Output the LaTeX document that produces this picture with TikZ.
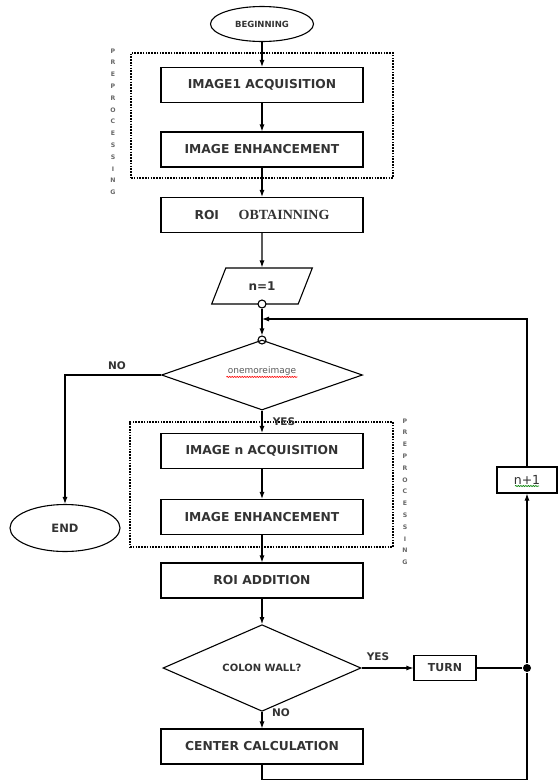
\documentclass[tikz,border=0pt]{standalone}
\usepackage{fontspec}
\setmainfont{DejaVu Sans}
\newfontfamily\serifb{Liberation Serif}
\usetikzlibrary{arrows.meta,shapes.geometric,decorations.pathmorphing}
\definecolor{txt}{HTML}{333333}
\begin{document}
\begin{tikzpicture}[x=1pt,y=-1pt,line width=1.1pt,
  box/.style={draw,rectangle,minimum width=202pt,minimum height=35pt,inner sep=0pt,text=txt,font=\bfseries\fontsize{12.3}{14}\selectfont},
  arr/.style={-{Latex[length=7pt,width=5pt]}},
  dotbox/.style={draw,line width=1.8pt,dash pattern=on 1.6pt off 1.2pt,rectangle,inner sep=0pt},
  vtext/.style={text=gray!80!black,align=center,font=\bfseries\fontsize{6.2}{11.8}\selectfont,inner sep=0pt,anchor=north},
  lbl/.style={text=txt,font=\bfseries\fontsize{10.5}{12}\selectfont,inner sep=0pt},
  smallc/.style={circle,draw,fill=white,inner sep=0pt,minimum size=8pt},
  wavy/.style={decorate,decoration={snake,amplitude=0.6pt,segment length=2.5pt},line width=0.6pt}]
\useasboundingbox (0,0) rectangle (558,780);
% nodes
\node[ellipse,draw,minimum width=103pt,minimum height=35pt,inner sep=0pt,text=txt,font=\bfseries\fontsize{8.5}{9}\selectfont] (beg) at (262,24) {BEGINNING};
\node[dotbox,minimum width=262pt,minimum height=125pt] (pre1) at (262,115.5) {};
\node[box] (acq1) at (262,85) {IMAGE1 ACQUISITION};
\node[box] (enh1) at (262,149.5) {IMAGE ENHANCEMENT};
\node[box] (roi) at (262,215) {ROI\hspace{1.6em}{\serifb\bfseries\fontsize{14}{15}\selectfont OBTAINNING}};
\node[trapezium,trapezium left angle=59,trapezium right angle=121,trapezium stretches=true,draw,minimum width=101pt,minimum height=36pt,inner sep=0pt,text=txt,font=\bfseries\fontsize{12}{13}\selectfont] (n1) at (262,286) {n=1};
\node[smallc] (c1) at (262,304) {};
\node[smallc] (c2) at (262,340) {};
\coordinate (j) at (262,319);
\node[diamond,draw,minimum width=201pt,minimum height=70pt,inner sep=0pt] (d1) at (262,375) {};
\node[text=gray!70!black,font=\fontsize{9}{10}\selectfont,inner sep=1pt] (d1t) at (262,371) {onemoreimage};
\draw[red,wavy] (d1t.south west) -- (d1t.south east);
\node[ellipse,draw,minimum width=110pt,minimum height=47pt,inner sep=0pt,text=txt,font=\bfseries\fontsize{11.5}{13}\selectfont] (end) at (65,528) {END};
\node[dotbox,minimum width=263pt,minimum height=125pt] (pre2) at (261.5,484.5) {};
\node[box] (acq2) at (262,451) {IMAGE n ACQUISITION};
\node[box] (enh2) at (262,517) {IMAGE ENHANCEMENT};
\node[box] (roia) at (262,580.5) {ROI ADDITION};
\node[diamond,draw,minimum width=198pt,minimum height=71pt,inner sep=0pt,text=txt,font=\bfseries\fontsize{10}{12}\selectfont] (d2) at (262,668) {COLON WALL?};
\node[draw,rectangle,minimum width=62pt,minimum height=25pt,inner sep=0pt,text=txt,font=\bfseries\fontsize{11}{13}\selectfont] (turn) at (445,668) {TURN};
\node[circle,fill,inner sep=0pt,minimum size=8pt] (dot) at (527,668) {};
\node[box] (cc) at (262,746.5) {CENTER CALCULATION};
\node[draw,rectangle,fill=white,minimum width=60pt,minimum height=26pt,inner sep=0pt,text=txt,font=\fontsize{12.5}{14}\selectfont] (np1) at (527,480) {n+1};
\draw[green!50!black,wavy] ([xshift=-12pt,yshift=-6pt]np1.center) -- ([xshift=12pt,yshift=-6pt]np1.center);
% vertical labels
\node[vtext] (v1) at (113,48) {P\\R\\E\\P\\R\\O\\C\\E\\S\\S\\I\\N\\G};
\node[vtext] (v2) at (405,418) {P\\R\\E\\P\\R\\O\\C\\E\\S\\S\\I\\N\\G};
% connectors
\draw[arr] (beg.south) -- (acq1.north);
\draw[arr] (acq1.south) -- (enh1.north);
\draw[arr] (enh1.south) -- (roi.north);
\draw[arr] (roi.south) -- (n1.north);
\draw[arr] (c1.south) -- (c2.north);
\draw[arr] (np1.north) |- (j);
\draw[arr] (d1.west) -| (end.north);
\node[lbl] (no1) at (117,366) {NO};
\draw[arr] (d1.south) -- (acq2.north);
\node[lbl] (yes1) at (284,422) {YES};
\draw[arr] (acq2.south) -- (enh2.north);
\draw[arr] (enh2.south) -- (roia.north);
\draw[arr] (roia.south) -- (d2.north);
\draw[arr] (d2.east) -- (turn.west);
\node[lbl] (yes2) at (378,657) {YES};
\draw (turn.east) -- (dot);
\draw[arr] (d2.south) -- (cc.north);
\node[lbl] (no2) at (281,713) {NO};
\draw (cc.south) -- ++(0,15) -| (dot.south);
\draw[arr] (dot.north) -- (np1.south);
\end{tikzpicture}
\end{document}
